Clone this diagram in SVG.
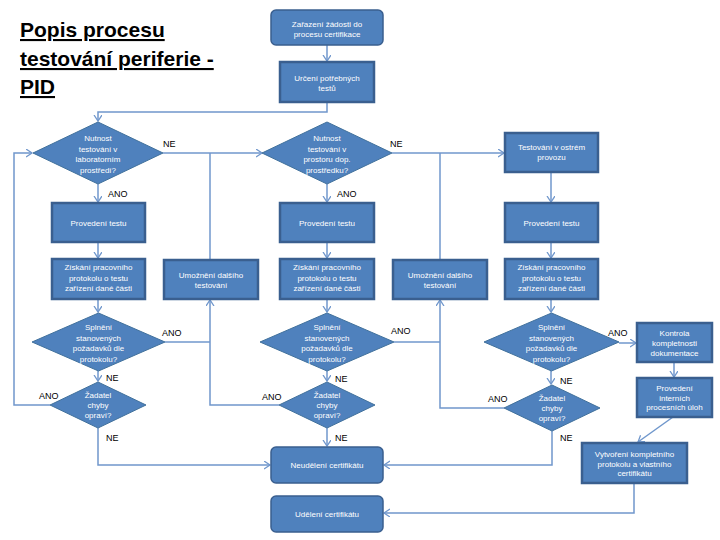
<svg xmlns="http://www.w3.org/2000/svg" width="720" height="540" viewBox="0 0 720 540">
<style>
.box{fill:#4F81BD;stroke:#3A5F8F;stroke-width:2.5}
.rbox{fill:#4F81BD;stroke:#3A5F8F;stroke-width:1.5}
.dia{fill:#4F81BD;stroke:#41719C;stroke-width:1}
.t{font-family:"Liberation Sans",Arial,sans-serif;font-size:8px;fill:#FFFFFF;text-anchor:middle}
.lbl{font-family:"Liberation Sans",Arial,sans-serif;font-size:9px;fill:#000000}
.title{font-family:"Liberation Sans",Arial,sans-serif;font-size:21px;font-weight:bold;fill:#000000;text-decoration:underline}
.c{fill:none;stroke:#7097CC;stroke-width:1.5}
</style>
<defs>
<marker id="arr" markerWidth="10" markerHeight="10" refX="6" refY="4" orient="auto" markerUnits="userSpaceOnUse">
<path d="M0,0 L6,4 L0,8" fill="none" stroke="#7097CC" stroke-width="1.3"/>
</marker>
</defs>
<rect width="720" height="540" fill="#FFFFFF"/>
<g id="title">
<text class="title" x="20" y="37">Popis procesu</text>
<text class="title" x="20" y="66">testování periferie -</text>
<text class="title" x="20" y="94">PID</text>
</g>
<g id="connectors">
<path class="c" d="M327,45 L327,61" marker-end="url(#arr)"/>
<path class="c" d="M327,102 L327,112 L98,112 L98,121" marker-end="url(#arr)"/>
<path class="c" d="M98,184 L98,202" marker-end="url(#arr)"/>
<path class="c" d="M98,242 L98,258" marker-end="url(#arr)"/>
<path class="c" d="M98,299 L98,312" marker-end="url(#arr)"/>
<path class="c" d="M98,371 L98,381" marker-end="url(#arr)"/>
<path class="c" d="M50,405 L14,405 L14,153 L32,153" marker-end="url(#arr)"/>
<path class="c" d="M98,428 L98,465 L270,465" marker-end="url(#arr)"/>
<path class="c" d="M163,153 L262,153" marker-end="url(#arr)"/>
<path class="c" d="M210,260 L210,153"/>
<path class="c" d="M165,342 L210,342"/>
<path class="c" d="M279,405 L210,405 L210,300" marker-end="url(#arr)"/>
<path class="c" d="M327,184 L327,202" marker-end="url(#arr)"/>
<path class="c" d="M327,242 L327,258" marker-end="url(#arr)"/>
<path class="c" d="M327,299 L327,312" marker-end="url(#arr)"/>
<path class="c" d="M327,371 L327,381" marker-end="url(#arr)"/>
<path class="c" d="M327,428 L327,446" marker-end="url(#arr)"/>
<path class="c" d="M392,153 L504,153" marker-end="url(#arr)"/>
<path class="c" d="M440,259 L440,153"/>
<path class="c" d="M394,342 L440,342"/>
<path class="c" d="M504,408 L440,408 L440,300" marker-end="url(#arr)"/>
<path class="c" d="M551,172 L551,202" marker-end="url(#arr)"/>
<path class="c" d="M551,242 L551,258" marker-end="url(#arr)"/>
<path class="c" d="M551,299 L551,312" marker-end="url(#arr)"/>
<path class="c" d="M551,371 L551,384" marker-end="url(#arr)"/>
<path class="c" d="M552,431 L552,465 L384,465" marker-end="url(#arr)"/>
<path class="c" d="M619,343 L636,343" marker-end="url(#arr)"/>
<path class="c" d="M674,362 L674,377" marker-end="url(#arr)"/>
<path class="c" d="M673,417 L638,442" marker-end="url(#arr)"/>
<path class="c" d="M634,483 L634,513 L384,513" marker-end="url(#arr)"/>
</g>
<g id="labels">
<text class="lbl" x="108" y="197">ANO</text>
<text class="lbl" x="163" y="147">NE</text>
<text class="lbl" x="162" y="336">ANO</text>
<text class="lbl" x="106" y="381">NE</text>
<text class="lbl" x="39" y="399">ANO</text>
<text class="lbl" x="106" y="441">NE</text>
<text class="lbl" x="337" y="197">ANO</text>
<text class="lbl" x="390" y="147">NE</text>
<text class="lbl" x="391" y="334">ANO</text>
<text class="lbl" x="335" y="382">NE</text>
<text class="lbl" x="262" y="400">ANO</text>
<text class="lbl" x="335" y="441">NE</text>
<text class="lbl" x="608" y="336">ANO</text>
<text class="lbl" x="560" y="384">NE</text>
<text class="lbl" x="488" y="402">ANO</text>
<text class="lbl" x="560" y="441">NE</text>
</g>
<g id="n_zarazeni">
<rect class="rbox" x="271" y="10" width="112" height="35" rx="5"/>
<text class="t" x="327" y="26.5">Zařazení žádosti do</text>
<text class="t" x="327" y="36.5">procesu certifikace</text>
</g>
<g id="n_urceni">
<rect class="box" x="280" y="62" width="94" height="40"/>
<text class="t" x="327" y="81">Určení potřebných</text>
<text class="t" x="327" y="90.5">testů</text>
</g>
<g id="n_d1">
<polygon class="dia" points="98,122 163,153 98,184 33,153"/>
<text class="t" x="98" y="141">Nutnost</text>
<text class="t" x="98" y="151.5">testování  v</text>
<text class="t" x="98" y="162">laboratorním</text>
<text class="t" x="98" y="172.5">prostředí?</text>
</g>
<g id="n_d2">
<polygon class="dia" points="327,122 392,153 327,184 262,153"/>
<text class="t" x="327" y="141">Nutnost</text>
<text class="t" x="327" y="151.5">testování  v</text>
<text class="t" x="327" y="162">prostoru dop.</text>
<text class="t" x="327" y="172.5">prostředku?</text>
</g>
<g id="n_ostry">
<rect class="box" x="505" y="133" width="93" height="39"/>
<text class="t" x="551.5" y="150">Testování v ostrém</text>
<text class="t" x="551.5" y="160">provozu</text>
</g>
<g id="n_prov1">
<rect class="box" x="52" y="203" width="93" height="39"/>
<text class="t" x="98.5" y="225.5">Provedení  testu</text>
</g>
<g id="n_prov2">
<rect class="box" x="280" y="203" width="94" height="39"/>
<text class="t" x="327" y="225.5">Provedení  testu</text>
</g>
<g id="n_prov3">
<rect class="box" x="505" y="203" width="93" height="39"/>
<text class="t" x="551.5" y="225.5">Provedení  testu</text>
</g>
<g id="n_ziskani1">
<rect class="box" x="52" y="259" width="93" height="40"/>
<text class="t" x="98.5" y="270">Získání pracovního</text>
<text class="t" x="98.5" y="280.5">protokolu o testu</text>
<text class="t" x="98.5" y="291">zařízení dané části</text>
</g>
<g id="n_ziskani2">
<rect class="box" x="280" y="259" width="94" height="40"/>
<text class="t" x="327" y="270">Získání pracovního</text>
<text class="t" x="327" y="280.5">protokolu o testu</text>
<text class="t" x="327" y="291">zařízení dané části</text>
</g>
<g id="n_ziskani3">
<rect class="box" x="505" y="259" width="93" height="40"/>
<text class="t" x="551.5" y="270">Získání pracovního</text>
<text class="t" x="551.5" y="280.5">protokolu o testu</text>
<text class="t" x="551.5" y="291">zařízení dané části</text>
</g>
<g id="n_umozneni1">
<rect class="box" x="164" y="260" width="94" height="39"/>
<text class="t" x="211" y="278">Umožnění dalšího</text>
<text class="t" x="211" y="287.5">testování</text>
</g>
<g id="n_umozneni2">
<rect class="box" x="393" y="260" width="94" height="39"/>
<text class="t" x="440" y="278">Umožnění dalšího</text>
<text class="t" x="440" y="287.5">testování</text>
</g>
<g id="n_splneni1">
<polygon class="dia" points="98.5,313 165,342 98.5,371 32,342"/>
<text class="t" x="98.5" y="330">Splnění</text>
<text class="t" x="98.5" y="340.5">stanovených</text>
<text class="t" x="98.5" y="351">požadavků dle</text>
<text class="t" x="98.5" y="361.5">protokolu?</text>
</g>
<g id="n_splneni2">
<polygon class="dia" points="327,313 394,342 327,371 260,342"/>
<text class="t" x="327" y="330">Splnění</text>
<text class="t" x="327" y="340.5">stanovených</text>
<text class="t" x="327" y="351">požadavků dle</text>
<text class="t" x="327" y="361.5">protokolu?</text>
</g>
<g id="n_splneni3">
<polygon class="dia" points="551.5,313 619,342 551.5,371 484,342"/>
<text class="t" x="551.5" y="330">Splnění</text>
<text class="t" x="551.5" y="340.5">stanovených</text>
<text class="t" x="551.5" y="351">požadavků dle</text>
<text class="t" x="551.5" y="361.5">protokolu?</text>
</g>
<g id="n_zadatel1">
<polygon class="dia" points="98,382 146,405 98,428 50,405"/>
<text class="t" x="98" y="398">Žadatel</text>
<text class="t" x="98" y="408">chyby</text>
<text class="t" x="98" y="418">opraví?</text>
</g>
<g id="n_zadatel2">
<polygon class="dia" points="327,382 375,405 327,428 279,405"/>
<text class="t" x="327" y="398">Žadatel</text>
<text class="t" x="327" y="408">chyby</text>
<text class="t" x="327" y="418">opraví?</text>
</g>
<g id="n_zadatel3">
<polygon class="dia" points="552,385 600,408 552,431 504,408"/>
<text class="t" x="552" y="401">Žadatel</text>
<text class="t" x="552" y="411">chyby</text>
<text class="t" x="552" y="421">opraví?</text>
</g>
<g id="n_kontrola">
<rect class="box" x="637" y="323" width="75" height="39"/>
<text class="t" x="674.5" y="336">Kontrola</text>
<text class="t" x="674.5" y="346">kompletnosti</text>
<text class="t" x="674.5" y="356">dokumentace</text>
</g>
<g id="n_interni">
<rect class="box" x="637" y="378" width="75" height="39"/>
<text class="t" x="674.5" y="391">Provedení</text>
<text class="t" x="674.5" y="400.5">interních</text>
<text class="t" x="674.5" y="410">procesních úloh</text>
</g>
<g id="n_vytvoreni">
<rect class="box" x="582" y="443" width="105" height="40"/>
<text class="t" x="634.5" y="457">Vytvoření kompletního</text>
<text class="t" x="634.5" y="466.5">protokolu a vlastního</text>
<text class="t" x="634.5" y="476">certifikátu</text>
</g>
<g id="n_neudeleni">
<rect class="rbox" x="271" y="447" width="112" height="36" rx="5"/>
<text class="t" x="327" y="468">Neudělení certifikátu</text>
</g>
<g id="n_udeleni">
<rect class="rbox" x="271" y="496" width="112" height="36" rx="5"/>
<text class="t" x="327" y="517">Udělení certifikátu</text>
</g>
</svg>
